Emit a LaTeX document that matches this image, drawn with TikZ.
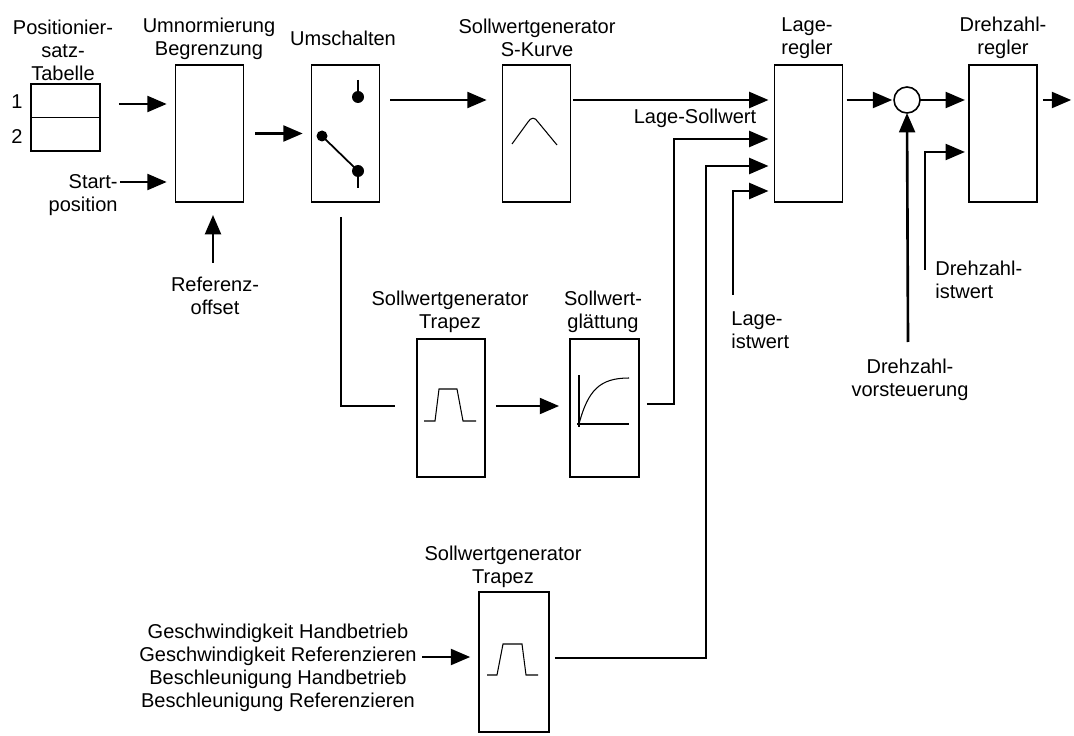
\documentclass[tikz,border=0pt]{standalone}
\usepackage{fontspec}
\setmainfont{Liberation Sans}
\usetikzlibrary{arrows.meta}

\begin{document}
\begin{tikzpicture}[x=0.02cm, y=-0.02cm,
  every node/.style={font=\fontsize{11.4}{13.1}\selectfont},
  blk/.style={draw, line width=0.9pt, minimum width=1.36cm, minimum height=2.74cm, inner sep=0pt, outer sep=0pt},
  lbl/.style={align=center, inner sep=0pt},
  arr/.style={line width=1.5pt, -{Triangle[length=11pt,width=9pt]}, shorten >=5pt},
  wire/.style={line width=1.3pt},
  sym/.style={line width=0.6pt}]
  \useasboundingbox (0,0) rectangle (1074,736);

  % blocks
  \node[blk, minimum width=1.38cm, minimum height=1.34cm] (tab) at (65.5,117.5) {};
  \node[blk] (umn) at (209.5,133.5) {};
  \node[blk] (sw) at (345.5,133.5) {};
  \node[blk] (sk) at (536.5,133.5) {};
  \node[blk] (lr) at (808.5,133.5) {};
  \node[blk] (dr) at (1003,133.5) {};
  \node[draw, circle, line width=0.9pt, minimum size=0.52cm, inner sep=0pt, outer sep=0pt] (sum) at (907,100) {};
  \node[blk, minimum height=2.76cm] (tz1) at (451,408) {};
  \node[blk, minimum width=1.38cm, minimum height=2.76cm] (gl) at (604.5,408) {};
  \node[blk, minimum width=1.4cm, minimum height=2.8cm] (tz2) at (514,662) {};

  % labels
  \node[lbl] (tabl) at (63,50.5) {Positionier-\\satz-\\Tabelle};
  \node[lbl] (n1) at (17,102) {1};
  \node[lbl] (n2) at (17,137) {2};
  \node[lbl] (umnl) at (209,38.5) {Umnormierung\\Begrenzung};
  \node[lbl, align=right, anchor=east] (startl) at (118,195) {Start-\\position};
  \node[lbl] (refl) at (215,296) {Referenz-\\offset};
  \node[lbl] (swl) at (343,38) {Umschalten};
  \node[lbl] (skl) at (537,37.5) {Sollwertgenerator\\S-Kurve};
  \node[lbl] (lrl) at (807,38) {Lage-\\regler};
  \node[lbl] (drl) at (1003,38) {Drehzahl-\\regler};
  \node[lbl] (lswl) at (695,118) {Lage-Sollwert};
  \node[lbl] (tz1l) at (450,312) {Sollwertgenerator\\Trapez};
  \node[lbl] (gll) at (603,312) {Sollwert-\\glättung};
  \node[lbl, align=left, anchor=west] (listl) at (731,330) {Lage-\\istwert};
  \node[lbl, align=left, anchor=west] (distl) at (935,280) {Drehzahl-\\istwert};
  \node[lbl] (vstl) at (910,380) {Drehzahl-\\vorsteuerung};
  \node[lbl] (tz2l) at (503,567) {Sollwertgenerator\\Trapez};
  \node[lbl] (inl) at (278,668) {Geschwindigkeit Handbetrieb\\Geschwindigkeit Referenzieren\\Beschleunigung Handbetrieb\\Beschleunigung Referenzieren};

  % free ends
  \coordinate (start) at (120,182);
  \coordinate (ref) at (213,263);
  \coordinate (top) at (0,100);
  \coordinate (out) at (1080,100);
  \coordinate (vst) at (908,342);
  \coordinate (dist) at (925,270);
  \coordinate (list) at (733,295);
  \coordinate (inp) at (422,657);

  % connectors
  \draw[arr, shorten <=10.8pt] (tab.east |- 0,104) -- (umn.west |- 0,104);
  \draw[arr] (start) -- (umn.west |- start);
  \draw[arr, shorten >=7.4pt] (ref) -- (umn.south -| ref);
  \draw[arr, shorten <=6.8pt] (umn.east) -- (sw.west);
  \draw[arr, shorten <=6.2pt, shorten >=9pt] (sw.east |- top) -- (sk.west |- top);
  \draw[arr, shorten <=1.7pt, shorten >=3.4pt] (sk.east |- top) -- (lr.west |- top);
  \draw[arr, shorten <=2.3pt, shorten >=1pt] (lr.east |- sum) -- (sum.west);
  \draw[arr, shorten >=2.3pt] (sum.east) -- (dr.west |- sum);
  \draw[arr, shorten <=3.4pt] (dr.east |- sum) -- (out);
  \draw[arr, shorten >=0pt] (vst) -- (sum.south);
  \draw[arr, shorten >=2.3pt] (dist) |- (dr.west |- 0,152);
  \draw[arr, shorten <=4.5pt, shorten >=3.4pt] (gl.east |- 0,404) -| (674,139) -- (lr.west |- 0,139);
  \draw[arr, shorten <=3.4pt, shorten >=3.4pt] (tz2.east |- 0,658) -| (706,166) -- (lr.west |- 0,166);
  \draw[arr, shorten >=3.4pt] (list) |- (lr.west |- 0,191);
  \draw[wire, shorten <=8.5pt, shorten >=12.5pt] (sw.south -| 341,0) |- (tz1.west |- 0,406);
  \draw[arr, shorten <=6.2pt, shorten >=6.2pt] (tz1.east |- 0,406) -- (gl.west |- 0,406);
  \draw[arr] (inp) -- (tz2.west |- inp);

  % symbols inside the blocks
  \draw[sym] (tab.west) -- (tab.east);
  \draw[line width=1pt] (358,80) -- (358,97);
  \draw[line width=1pt] (322,136) -- (358,171) -- (358,188);
  \fill (358,97) circle (0.12cm) (322,136) circle (0.11cm) (358,171) circle (0.12cm);
  \draw[sym] (512,144) -- (528,122) .. controls (531,117) and (535,117) .. (538,122) -- (557,145);
  \draw[sym] (424,421) -- (435,421) -- (439,389) -- (457,389) -- (463,421) -- (476,421);
  \draw[sym] (579,375) -- (579,427) (577,424) -- (629,424);
  \draw[sym] (579,424) .. controls (588,390) and (600,378) .. (629,378);
  \draw[sym] (487,675) -- (497,675) -- (503,644) -- (522,644) -- (526,675) -- (538,675);
\end{tikzpicture}
\end{document}
